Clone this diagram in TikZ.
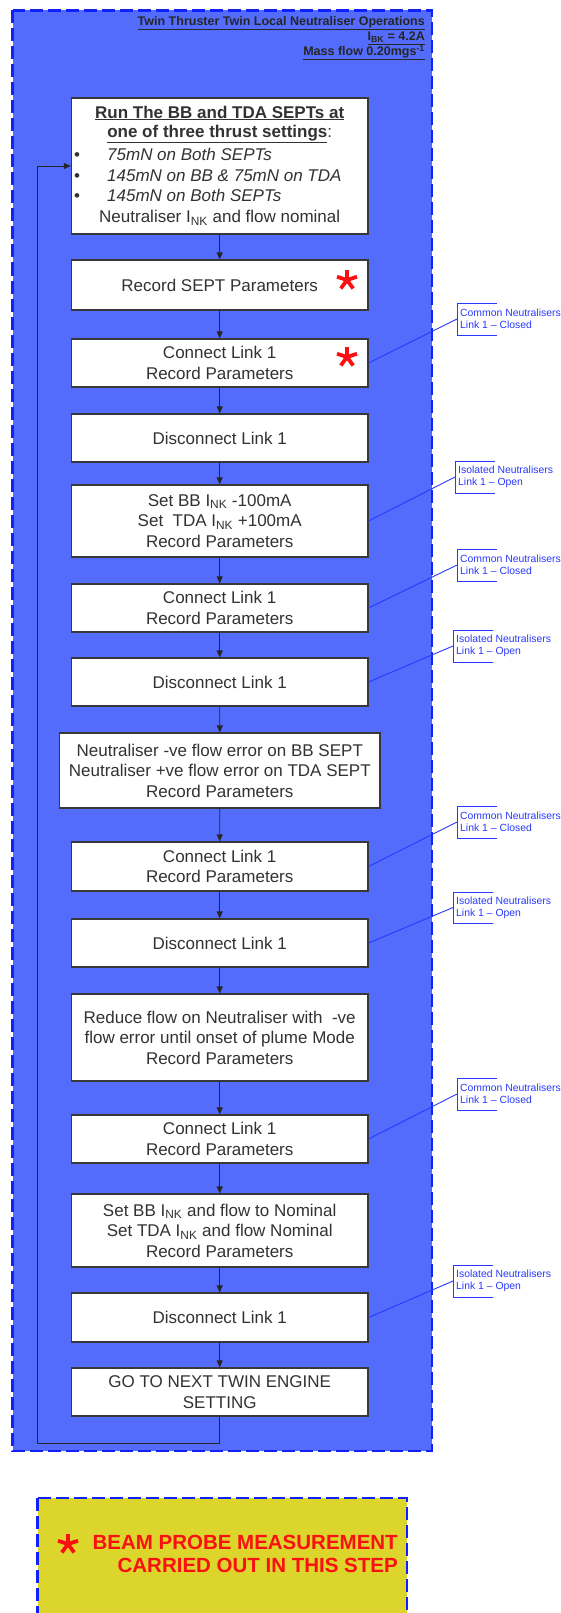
\documentclass[tikz,border=0pt]{standalone}
\usepackage{fontspec}
\setmainfont{Liberation Sans}
\usetikzlibrary{arrows.meta,calc}

\definecolor{panelblue}{RGB}{84,108,252}
\definecolor{dashblue}{RGB}{16,32,255}
\definecolor{noteyellow}{RGB}{220,214,44}
\definecolor{calloutblue}{RGB}{40,56,255}
\definecolor{boxtext}{RGB}{50,50,50}
\definecolor{starred}{RGB}{250,16,16}

\newcommand\setfs[2]{\fontsize{#1}{#2}\selectfont}

\begin{document}
\begin{tikzpicture}[x=1pt,y=-1pt,
  panel/.style={fill=panelblue, draw=dashblue, line width=2.2pt, dash pattern=on 13pt off 5pt},
  notepanel/.style={fill=noteyellow, draw=dashblue, line width=2.2pt, dash pattern=on 13pt off 5pt},
  stepbox/.style={draw=black!78, line width=1.1pt, fill=white, text=boxtext, align=center,
    font=\setfs{17}{20.5}, inner sep=0pt, minimum width=296.6pt},
  boxline/.style={text=boxtext, font=\setfs{17}{20.5}, inner sep=0pt},
  flow/.style={-{Triangle[length=7pt,width=6pt]}, line width=0.9pt, black!85},
  titleline/.style={font=\bfseries\setfs{12.5}{14}, text=black!85, inner sep=0pt, anchor=east},
  bracket/.style={draw=calloutblue, line width=0.9pt},
  leader/.style={draw=calloutblue, line width=0.9pt},
  callouttext/.style={font=\setfs{10.4}{12}, text=calloutblue, align=left, anchor=west, inner sep=1pt},
  redstar/.pic={\foreach \a in {90,18,162,234,306} \draw[starred, line width=3.8pt] (0,0) -- (\a:10.5pt);}
]
\useasboundingbox (0,0) rectangle (560,1613);

% outer panel
\path[panel] (12.5,10.5) rectangle (432,1451);

% panel heading
\node[titleline] (head1) at (425,23) {\underline{Twin Thruster Twin Local Neutraliser Operations}};
\node[titleline] (head2) at (425,38) {\underline{I\textsubscript{BK} = 4.2A}};
\node[titleline] (head3) at (425,52.5) {\underline{Mass flow 0.20mgs\textsuperscript{-1}}};

% first step with its list of thrust settings
\node[stepbox, minimum height=136pt] (b1) at (219.7,166) {};
\node[boxline] (b1l1) at (219.7,113) {\bfseries\underline{Run The BB and TDA SEPTs at}};
\node[boxline] (b1l2) at (219.7,134) {\bfseries\underline{one of three thrust settings}\mdseries:};
\node[boxline, anchor=base] (b1d1) at (77,161) {\textbullet};
\node[boxline, anchor=base] (b1d2) at (77,181.5) {\textbullet};
\node[boxline, anchor=base] (b1d3) at (77,202) {\textbullet};
\node[boxline, anchor=base west] (b1i1) at (107,161) {\itshape 75mN on Both SEPTs};
\node[boxline, anchor=base west] (b1i2) at (107,181.5) {\itshape 145mN on BB \& 75mN on TDA};
\node[boxline, anchor=base west] (b1i3) at (107,202) {\itshape 145mN on Both SEPTs};
\node[boxline] (b1l6) at (219.7,218) {Neutraliser I\textsubscript{NK} and flow nominal};

% remaining steps
\node[stepbox, minimum height=50pt] (b2) at (219.7,285) {Record SEPT Parameters};
\node[stepbox, minimum height=48pt] (b3) at (219.7,363) {Connect Link 1\\Record Parameters};
\node[stepbox, minimum height=48pt] (b4) at (219.7,438) {Disconnect Link 1};
\node[stepbox, minimum height=72pt] (b5) at (219.7,521) {Set BB I\textsubscript{NK} -100mA\\Set\ \ TDA I\textsubscript{NK} +100mA\\Record Parameters};
\node[stepbox, minimum height=48pt] (b6) at (219.7,608) {Connect Link 1\\Record Parameters};
\node[stepbox, minimum height=48pt] (b7) at (219.7,682) {Disconnect Link 1};
\node[stepbox, minimum height=75pt, minimum width=320.4pt] (b8) at (219.8,770.5) {Neutraliser -ve flow error on BB SEPT\\Neutraliser +ve flow error on TDA SEPT\\Record Parameters};
\node[stepbox, minimum height=49pt] (b9) at (219.7,866.5) {Connect Link 1\\Record Parameters};
\node[stepbox, minimum height=48pt] (b10) at (219.7,943) {Disconnect Link 1};
\node[stepbox, minimum height=87pt] (b11) at (219.7,1037.5) {Reduce flow on Neutraliser with\ \ -ve\\flow error until onset of plume Mode\\Record Parameters};
\node[stepbox, minimum height=48pt] (b12) at (219.7,1139) {Connect Link 1\\Record Parameters};
\node[stepbox, minimum height=73pt] (b13) at (219.7,1230.5) {Set BB I\textsubscript{NK} and flow to Nominal\\Set TDA I\textsubscript{NK} and flow Nominal\\Record Parameters};
\node[stepbox, minimum height=49pt] (b14) at (219.7,1317.5) {Disconnect Link 1};
\node[stepbox, minimum height=48pt] (b15) at (219.7,1392) {GO TO NEXT TWIN ENGINE\\SETTING};

% beam probe markers
\pic at (347,280) {redstar};
\pic at (347,357) {redstar};

% step sequence
\foreach \i/\j in {b1/b2,b2/b3,b3/b4,b4/b5,b5/b6,b6/b7,b7/b8,b8/b9,b9/b10,b10/b11,b11/b12,b12/b13,b13/b14,b14/b15}
  \draw[flow] (\i.south) -- (\j.north);

% return loop to the first step
\coordinate (loopcorner) at (37.5,1443);
\draw[flow] (b15.south) |- (loopcorner) |- (b1.west);

% link state callouts: bracket x, top, bottom, step, text
\foreach \n/\bx/\yt/\yb/\stepname/\txt in {
  c1/457/303/335/b3/{Common Neutralisers\\Link 1 – Closed},
  c2/455/461/493/b5/{Isolated Neutralisers\\Link 1 – Open},
  c3/457/549/581/b6/{Common Neutralisers\\Link 1 – Closed},
  c4/453/630/662/b7/{Isolated Neutralisers\\Link 1 – Open},
  c5/457/806/838/b9/{Common Neutralisers\\Link 1 – Closed},
  c6/453/892/923/b10/{Isolated Neutralisers\\Link 1 – Open},
  c7/457/1078/1110/b12/{Common Neutralisers\\Link 1 – Closed},
  c8/453/1265/1297/b14/{Isolated Neutralisers\\Link 1 – Open}} {
  \coordinate (\n top) at (\bx,\yt);
  \coordinate (\n bot) at (\bx,\yb);
  \coordinate (\n mid) at ($(\n top)!0.5!(\n bot)$);
  \draw[bracket] ([xshift=40pt]\n top) -- (\n top) -- (\n bot) -- ([xshift=40pt]\n bot);
  \node[callouttext] (\n txt) at ([xshift=2pt]\n mid) {\txt};
  \draw[leader] (\stepname.east) -- (\n mid);
}

% legend panel
\path[notepanel] (37.5,1498) rectangle (407,1630);
\pic at (68,1544) {redstar};
\node[font=\bfseries\setfs{20.5}{23}, text=starred, align=right, anchor=east, inner sep=0pt] (legend) at (398,1553.5) {BEAM PROBE MEASUREMENT\\CARRIED OUT IN THIS STEP};
\end{tikzpicture}
\end{document}
